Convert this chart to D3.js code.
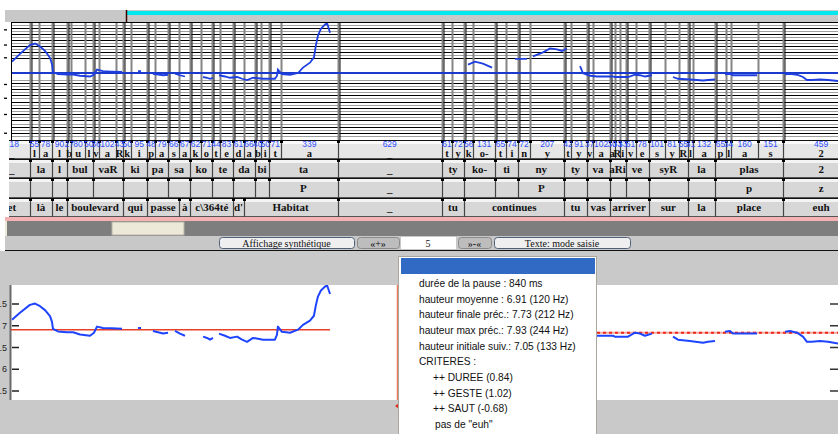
<!DOCTYPE html>
<html>
<head>
<meta charset="utf-8">
<script src="https://cdn.jsdelivr.net/npm/d3@7"></script>
<style>
body { margin: 0; background: #fff; }
svg { display: block; }
</style>
</head>
<body>
<div id="chart"></div>
<script>
// phones (SAMPA) and their durations in ms
const phones = ["_","l","a","l","b","u","l","v","a","R","k","i","p","a","s","a","k","o","t","e","d","a","b","i","t","a",
  "_","t","y","k","o-","t","i","n","y","t","y","v","a","a","R","i","v","e","s","y","R","l","a","p","l","a","s","2"];
const durees = [218,55,78,90,27,80,50,36,102,43,50,95,48,79,66,67,62,71,44,83,61,66,40,50,71,339,
  629,61,72,56,131,65,74,72,207,42,91,37,102,30,33,33,61,78,101,81,55,31,132,65,34,160,151,459];

// syllables : label + number of phones
const syllabes = ["_","la","l","bul","vaR","ki","pa","sa","ko","te","da","bi","ta","_","ty","ko-","ti","ny",
  "ty","va","aRi","ve","syR","la","plas","2"];
const syllPhones = [1,2,1,3,3,2,2,2,2,2,2,2,2,1,2,2,2,2,2,2,3,2,3,2,4,1];
const proeminences = ["","","","","","","","","","","","","P","_","","","","P","","","","","","","p","z"];

// words : label + number of phones
const mots = ["et","là","le","boulevard","qui","passe","à","c\\364té","d'","Habitat","_","tu","continues",
  "tu","vas","arriver","sur","la","place","euh"];
const motPhones = [1,2,1,6,2,3,1,4,1,5,1,2,6,2,2,5,3,2,4,1];

// F0 contour: time (ms) and log2(Hz); null = no voicing
const f0Temps = [110,158,218,249,279,309,339,351,357,387,441,478,520,580,604,622,658,712,773,null,
  869,887,null, 959,1002,1020,1050,null, 1092,1122,1152,null, 1261,1285,1303,1321,null,
  1357,1393,1423,1466,1496,1526,1562,1592,1622,1664,1694,1706,1712,1736,1785,1833,1863,1905,1929,1941,1953,1971,1996,2008,2026,null,
  2857,2899,2947,3002,null, 3140,3212,null, 3248,3309,3351,3393,3423,3453,null,
  3532,3550,3592,3634,3730,3742,3821,3863,3893,3923,3965,null,
  4092,4122,4194,4273,4303,4345,null, 4405,4435,4453,4598,null,
  4767,4797,4839,4875,4899,4929,4978,5026,5086];
const f0Valeurs = [7.14,7.30,7.48,7.51,7.45,7.36,7.22,7.09,6.93,6.87,6.85,6.85,6.80,6.77,6.84,6.98,6.95,6.94,6.93,null,
  6.95,6.95,null, 6.88,6.84,6.82,6.84,null, 6.88,6.82,6.77,null, 6.75,6.72,6.68,6.72,null,
  6.82,6.77,6.72,6.75,6.68,6.63,6.72,6.70,6.68,6.68,6.68,6.79,6.98,6.86,6.84,6.91,7.02,7.12,7.23,7.48,7.67,7.81,7.90,7.93,7.73,null,
  7.08,7.14,7.10,7.02,null, 7.20,7.20,null, 7.25,7.33,7.41,7.39,7.36,7.41,null,
  7.05,6.90,6.80,6.77,6.77,6.75,6.75,6.84,6.82,6.77,6.82,null,
  6.75,6.68,6.65,6.61,6.63,6.65,null, 6.86,6.88,6.82,6.82,null,
  6.86,6.88,6.84,6.75,6.63,6.63,6.65,6.63,6.59];

const moyenne = 6.91;
const niveauSuivant = 6.84;
const graduations = [5.5, 6, 6.5, 7, 7.5];
const graduationsHaut = [4.5, 5.25, 5.9, 6.45, 7.22, 7.48, 7.79];

const menuLignes = ["durée de la pause : 840 ms", "hauteur moyenne : 6.91 (120 Hz)",
  "hauteur finale préc.: 7.73 (212 Hz)", "hauteur max préc.: 7.93 (244 Hz)",
  "hauteur initiale suiv.: 7.05 (133 Hz)", "CRITERES :", "++ DUREE (0.84)",
  "++ GESTE (1.02)", "++ SAUT (-0.68)", "pas de \"euh\""];
const menuRetraits = [0,0,0,0,0,0,14,14,14,16];
const boutons = ["Affichage synthétique", "«+»", "5", "»-«", "Texte: mode saisie"];

// ------------------------------------------------------------
const W = 838, H = 434;
const serif = "'Liberation Serif', 'Times New Roman', serif";
const sans = "'Liberation Sans', Arial, sans-serif";

const svg = d3.select("#chart").append("svg")
    .attr("width", W).attr("height", H)
    .style("font-family", sans);
svg.append("rect").attr("width", W).attr("height", H).attr("fill", "#fff");

const fins = d3.cumsum(durees);
const debuts = [0, ...Array.from(fins).slice(0, -1)];

const x = d3.scaleLinear().domain([104, 5086]).range([11, 838]);
// top display is compressed below the mean
const topY = d3.scaleLinear().domain([4.23, moyenne, 7.95]).range([140, 73, 22]);
const botY = d3.scaleLinear().domain([5.5, 7.5]).range([391, 304]);

function grouper(labels, counts) {
  let i = 0;
  return labels.map((lab, k) => {
    const c = {label: lab, t0: debuts[i], t1: fins[i + counts[k] - 1]};
    i += counts[k];
    return c;
  });
}
const cellPhones = phones.map((p, i) => ({label: p, t0: debuts[i], t1: fins[i], d: durees[i]}));
const cellSyll = grouper(syllabes, syllPhones);
const cellProm = grouper(proeminences, syllPhones);
const cellMots = grouper(mots, motPhones);

const defs = svg.append("defs");
defs.append("clipPath").attr("id", "clipTop").append("rect")
    .attr("x", 11).attr("y", 22).attr("width", 827).attr("height", 118);
defs.append("clipPath").attr("id", "clipRows").append("rect")
    .attr("x", 9).attr("y", 139).attr("width", 829).attr("height", 80);
defs.append("clipPath").attr("id", "clipBL").append("rect")
    .attr("x", 11).attr("y", 285).attr("width", 386).attr("height", 115);
defs.append("clipPath").attr("id", "clipBR").append("rect")
    .attr("x", 597).attr("y", 285).attr("width", 241).attr("height", 115);

// ---- top strip
svg.append("rect").attr("x", 5).attr("y", 10).attr("width", 833).attr("height", 12).attr("fill", "#c8c8c8");
svg.append("rect").attr("x", 127).attr("y", 11).attr("width", 711).attr("height", 4).attr("fill", "#00e8ee");
svg.append("line").attr("x1", 126.5).attr("x2", 126.5).attr("y1", 10).attr("y2", 22)
    .attr("stroke", "#3a0000").attr("stroke-width", 1.5);

// ---- top pitch panel
const gTop = svg.append("g").attr("clip-path", "url(#clipTop)");
gTop.append("rect").attr("x", 11).attr("y", 22).attr("width", 827).attr("height", 118).attr("fill", "#fff");

const grille = d3.range(1, 14).map(k => moyenne + 0.3 + (k - 1) / 16)
  .concat(d3.range(0, 19).map(k => moyenne - 0.27 - k / 8));
gTop.selectAll("line.h").data(grille).join("line")
    .attr("x1", 11).attr("x2", 838)
    .attr("y1", v => Math.round(topY(v)) + 0.5).attr("y2", v => Math.round(topY(v)) + 0.5)
    .attr("stroke", (v, i) => i % 2 ? "#a0a0a0" : "#000");

gTop.selectAll("line.ph").data(debuts).join("line")
    .attr("x1", t => Math.round(x(t)) + 0.5).attr("x2", t => Math.round(x(t)) + 0.5)
    .attr("y1", 22).attr("y2", 140)
    .attr("stroke", "#858585").attr("stroke-width", 2);
gTop.selectAll("line.sy").data(cellSyll).join("line")
    .attr("x1", d => Math.round(x(d.t0)) + 2).attr("x2", d => Math.round(x(d.t0)) + 2)
    .attr("y1", 22).attr("y2", 140)
    .attr("stroke", "#111").attr("stroke-width", 1);

gTop.append("line").attr("x1", 11).attr("x2", 838)
    .attr("y1", topY(moyenne)).attr("y2", topY(moyenne))
    .attr("stroke", "#1a3acc").attr("stroke-width", 1.8);

const pts = f0Temps.map((t, i) => [t, f0Valeurs[i]]);
const lineTop = d3.line().defined(d => d[0] != null && d[1] != null)
    .x(d => x(d[0])).y(d => topY(d[1]));
gTop.append("path").datum(pts).attr("d", lineTop)
    .attr("fill", "none").attr("stroke", "#1f3fe0").attr("stroke-width", 1.8);

svg.append("line").attr("x1", 11).attr("x2", 838).attr("y1", 22.5).attr("y2", 22.5).attr("stroke", "#000");
svg.append("line").attr("x1", 11.5).attr("x2", 11.5).attr("y1", 22).attr("y2", 140).attr("stroke", "#000");
svg.selectAll("line.tk").data(graduationsHaut).join("line")
    .attr("x1", 4).attr("x2", 7)
    .attr("y1", v => topY(v)).attr("y2", v => topY(v))
    .attr("stroke", "#000").attr("stroke-width", 1.3);

// ---- annotation rows
const gRows = svg.append("g").attr("clip-path", "url(#clipRows)");

function drawRow(cells, y0, h, fillTop, fill, labelY, font) {
  const g = gRows.append("g");
  g.append("rect").attr("x", 5).attr("y", y0).attr("width", 833).attr("height", h).attr("fill", fill);
  g.append("rect").attr("x", 5).attr("y", y0 + 1).attr("width", 833).attr("height", 3).attr("fill", fillTop);
  g.append("line").attr("x1", 5).attr("x2", 838).attr("y1", y0 + 0.5).attr("y2", y0 + 0.5).attr("stroke", "#111");
  g.append("line").attr("x1", 5).attr("x2", 838).attr("y1", y0 + h - 0.5).attr("y2", y0 + h - 0.5).attr("stroke", "#555");
  g.selectAll("line.sep").data(cells).join("line")
      .attr("x1", d => Math.round(x(d.t0)) + 0.5).attr("x2", d => Math.round(x(d.t0)) + 0.5)
      .attr("y1", y0).attr("y2", y0 + h)
      .attr("stroke", "#444").attr("stroke-width", 1.2);
  g.selectAll("rect.notch").data(cells).join("rect")
      .attr("x", d => Math.round(x(d.t0)) - 1).attr("y", y0)
      .attr("width", 3).attr("height", 3).attr("fill", "#000");
  g.selectAll("text.lab").data(cells).join("text")
      .attr("x", d => (x(d.t0) + x(d.t1)) / 2).attr("y", labelY)
      .attr("text-anchor", "middle")
      .style("font-family", serif).style("font-weight", "bold").style("font-size", font)
      .attr("fill", "#111")
      .text(d => d.label);
  return g;
}

const gPh = drawRow(cellPhones, 140, 19, "#fafafa", "#e6e6e6", 156.5, "10.5px");
gPh.selectAll("text.num").data(cellPhones).join("text")
    .attr("x", d => (x(d.t0) + x(d.t1)) / 2).attr("y", 147)
    .attr("text-anchor", "middle")
    .style("font-size", "8.5px").attr("fill", "#2f4dff")
    .text(d => d.d);
drawRow(cellSyll, 159, 19, "#f4f4f4", "#d7d7d7", 173, "11px");
drawRow(cellProm, 178, 20, "#f4f4f4", "#d7d7d7", 192, "11px");
drawRow(cellMots, 198, 19, "#f4f4f4", "#d7d7d7", 211, "11px");

// ---- pink strip, scrollbar, toolbar
svg.append("rect").attr("x", 5).attr("y", 217).attr("width", 833).attr("height", 4).attr("fill", "#f5b2b2");
svg.append("rect").attr("x", 5).attr("y", 221).attr("width", 833).attr("height", 15).attr("fill", "#7e7e7e");
svg.append("rect").attr("x", 5).attr("y", 221).attr("width", 2).attr("height", 15).attr("fill", "#ece9d8");
svg.append("rect").attr("x", 112).attr("y", 222).attr("width", 72).attr("height", 13)
    .attr("fill", "#ece9d8").attr("stroke", "#b8b4a4");
svg.append("rect").attr("x", 5).attr("y", 236).attr("width", 833).attr("height", 14).attr("fill", "#c8c8c8");
svg.append("line").attr("x1", 5).attr("x2", 838).attr("y1", 250.5).attr("y2", 250.5).attr("stroke", "#111");

const boutonsPos = [[219, 354], [357, 399], [401, 455], [458, 491], [494, 630]];
boutons.forEach((b, i) => {
  const [a, c] = boutonsPos[i];
  const saisie = i === 2;
  const gris = i === 1 || i === 3;
  svg.append("rect").attr("x", a + 0.5).attr("y", 237.5).attr("width", c - a).attr("height", 11)
      .attr("rx", saisie ? 0 : 3)
      .attr("fill", saisie ? "#fff" : gris ? "#bdbdbd" : "#efefef")
      .attr("stroke", saisie ? "#fff" : gris ? "#8a8a8a" : "#50607a");
  svg.append("text").attr("x", (a + c) / 2).attr("y", 246.5).attr("text-anchor", "middle")
      .style("font-family", serif).style("font-size", "10px").attr("fill", "#111").text(b);
});

// ---- bottom area
svg.append("rect").attr("x", 0).attr("y", 251).attr("width", 838).attr("height", 183).attr("fill", "#c9c9c9");
svg.append("rect").attr("x", 11).attr("y", 285).attr("width", 386).attr("height", 115).attr("fill", "#fff");
svg.append("rect").attr("x", 597).attr("y", 285).attr("width", 241).attr("height", 115).attr("fill", "#fff");

svg.append("line").attr("x1", 10.5).attr("x2", 10.5).attr("y1", 285).attr("y2", 400)
    .attr("stroke", "#6a6a6a").attr("stroke-width", 2);
svg.selectAll("line.bt").data(graduations).join("line")
    .attr("x1", 12).attr("x2", 19).attr("y1", v => botY(v)).attr("y2", v => botY(v))
    .attr("stroke", "#222").attr("stroke-width", 1.5);
svg.selectAll("text.bt").data(graduations).join("text")
    .attr("x", 7).attr("y", v => botY(v) + 3).attr("text-anchor", "end")
    .style("font-size", "9px").attr("fill", "#222").text(v => String(v));
svg.selectAll("line.br").data(graduations).join("line")
    .attr("x1", 830).attr("x2", 838).attr("y1", v => botY(v)).attr("y2", v => botY(v))
    .attr("stroke", "#333").attr("stroke-width", 1.5);

const lineBot = d3.line().defined(d => d[0] != null && d[1] != null)
    .x(d => x(d[0])).y(d => botY(d[1]));
const dernierAvant = d3.max(f0Temps.filter(t => t != null && t < 2700));

const gBL = svg.append("g").attr("clip-path", "url(#clipBL)");
gBL.append("line").attr("x1", x(104)).attr("x2", x(dernierAvant))
    .attr("y1", botY(moyenne)).attr("y2", botY(moyenne))
    .attr("stroke", "#e8402a").attr("stroke-width", 1.5);
gBL.append("path").datum(pts).attr("d", lineBot)
    .attr("fill", "none").attr("stroke", "#1e44ff").attr("stroke-width", 2)
    .attr("stroke-linejoin", "round");

const gBR = svg.append("g").attr("clip-path", "url(#clipBR)");
gBR.append("line").attr("x1", 597).attr("x2", 838)
    .attr("y1", botY(niveauSuivant)).attr("y2", botY(niveauSuivant))
    .attr("stroke", "#f6a8a0").attr("stroke-width", 2);
gBR.append("line").attr("x1", 597).attr("x2", 838)
    .attr("y1", botY(niveauSuivant)).attr("y2", botY(niveauSuivant))
    .attr("stroke", "#ee2a1a").attr("stroke-width", 2).attr("stroke-dasharray", "3,3");
gBR.append("path").datum(pts).attr("d", lineBot)
    .attr("fill", "none").attr("stroke", "#1e44ff").attr("stroke-width", 2)
    .attr("stroke-linejoin", "round");

svg.append("line").attr("x1", 397.5).attr("x2", 397.5).attr("y1", 285).attr("y2", 400)
    .attr("stroke", "#ef7a5a").attr("stroke-width", 1.5);
svg.append("path").attr("d", "M395,406 L399,403 L399,409 Z").attr("fill", "#e03020");

// ---- popup menu
svg.append("rect").attr("x", 398.5).attr("y", 256.5).attr("width", 198).attr("height", 180)
    .attr("fill", "#fff").attr("stroke", "#aaa69c");
svg.append("rect").attr("x", 401).attr("y", 258).attr("width", 194).attr("height", 16).attr("fill", "#316ac5");
svg.selectAll("text.menu").data(menuLignes).join("text")
    .attr("x", (d, i) => 419 + menuRetraits[i])
    .attr("y", (d, i) => 287 + i * 15.65)
    .style("font-size", "10.2px").attr("fill", "#111")
    .text(d => d);
</script>
</body>
</html>
